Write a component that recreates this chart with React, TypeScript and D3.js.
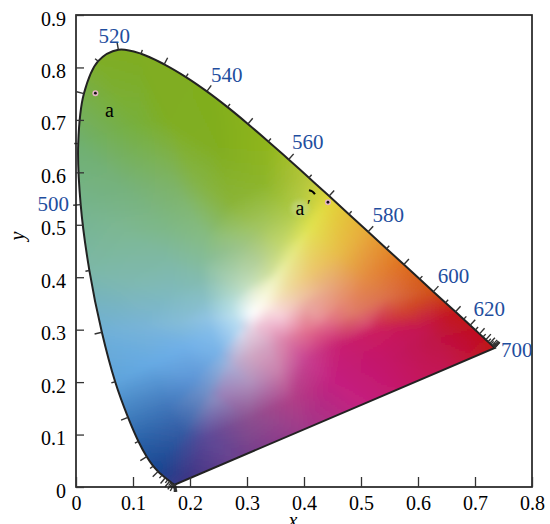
import { useEffect, useRef } from 'react';
import * as d3 from 'd3';

const width = 550;
const height = 524;
const margin = { top: 15, right: 18, bottom: 37, left: 76 };

const xTicks = [0, 0.1, 0.2, 0.3, 0.4, 0.5, 0.6, 0.7, 0.8];
const yTicks = [0, 0.1, 0.2, 0.3, 0.4, 0.5, 0.6, 0.7, 0.8, 0.9];

// spectral locus, one row per 5 nm starting at 380 nm
const locusStart = 380;
const locusX = [
  0.1741, 0.174, 0.1738, 0.1736, 0.1733, 0.173, 0.1726, 0.1721, 0.1714, 0.1703, 0.1689, 0.1669, 0.1644,
  0.1611, 0.1566, 0.151, 0.144, 0.1355, 0.1241, 0.1096, 0.0913, 0.0687, 0.0454, 0.0235, 0.0082, 0.0039,
  0.0139, 0.0389, 0.0743, 0.1142, 0.1547, 0.1929, 0.2296, 0.2658, 0.3016, 0.3373, 0.3731, 0.4087, 0.4441,
  0.4788, 0.5125, 0.5448, 0.5752, 0.6029, 0.627, 0.6482, 0.6658, 0.6801, 0.6915, 0.7006, 0.7079, 0.714,
  0.719, 0.723, 0.726, 0.7279, 0.73, 0.7311, 0.732, 0.7327, 0.7334, 0.734, 0.7344, 0.7346, 0.7347,
];
const locusY = [
  0.005, 0.005, 0.0049, 0.0049, 0.0048, 0.0048, 0.0048, 0.0048, 0.0051, 0.0058, 0.0069, 0.0086, 0.0109,
  0.0138, 0.0177, 0.0227, 0.0297, 0.0399, 0.0578, 0.0868, 0.1327, 0.2007, 0.295, 0.4127, 0.5384, 0.6548,
  0.7502, 0.812, 0.8338, 0.8262, 0.8059, 0.7816, 0.7543, 0.7243, 0.6923, 0.6589, 0.6245, 0.5896, 0.5547,
  0.5202, 0.4866, 0.4544, 0.4242, 0.3965, 0.3725, 0.3514, 0.334, 0.3197, 0.3083, 0.2993, 0.292, 0.2859,
  0.2809, 0.277, 0.274, 0.2721, 0.27, 0.2689, 0.268, 0.2673, 0.2666, 0.266, 0.2656, 0.2654, 0.2653,
];

const waveLabels = [500, 520, 540, 560, 580, 600, 620, 700];
const waveLabelDx = [-27.5, -4, 20, 19, 20, 20, 19, 22];
const waveLabelDy = [6, -7, -9, -10, -10, -9, -9.5, 9];

const pointNames = ['a', 'a'];
const pointX = [0.034, 0.442];
const pointY = [0.751, 0.543];

// colour samples of the diagram, taken along lines from the white point to the edge
const whitePoint: [number, number] = [0.31, 0.332];
const spokeStops = [0.12, 0.3, 0.5, 0.75, 1];
const spokeEndX = [
  0.445, 0.5125, 0.5752, 0.627, 0.6658, 0.7079, 0.7347, 0.62, 0.5, 0.4, 0.3, 0.2, 0.1741,
  0.144, 0.1096, 0.0687, 0.0454, 0.0235, 0.0082, 0.0039, 0.0389, 0.1142, 0.2296, 0.3373, 0.4087,
];
const spokeEndY = [
  0.552, 0.4866, 0.4242, 0.3725, 0.334, 0.292, 0.2653, 0.212, 0.156, 0.11, 0.063, 0.017, 0.005,
  0.0297, 0.0868, 0.2007, 0.295, 0.4127, 0.5384, 0.6548, 0.812, 0.8262, 0.7543, 0.6589, 0.5896,
];
const spokeColors = [
  ['#fafaea', '#eef2b8', '#e6ea88', '#e2e450', '#e2d83a'],
  ['#fbf4e0', '#f0dca0', '#ecc870', '#e8bc48', '#e8a838'],
  ['#fbe8e0', '#f0c8a8', '#e8a880', '#e48c40', '#e07020'],
  ['#f8dcdc', '#eaa8a0', '#e58a70', '#dc7048', '#d05018'],
  ['#f8d8dc', '#eaa0a0', '#e07a68', '#d04030', '#c41818'],
  ['#f6d0d8', '#e88c98', '#d85070', '#c41450', '#c01020'],
  ['#f6ccd8', '#e2708c', '#cc2060', '#c01248', '#c01515'],
  ['#f4c4d8', '#e27090', '#c82070', '#c41468', '#c41558'],
  ['#f0c0d4', '#dc80a8', '#c84090', '#c42080', '#c42280'],
  ['#ecc0d4', '#d4a0c0', '#ca80ac', '#b04088', '#a03a8a'],
  ['#e6d0e0', '#d0a8c4', '#b090bc', '#8c5090', '#74408c'],
  ['#dcd0e4', '#b8acd0', '#9a80b8', '#5c4a98', '#403585'],
  ['#d8d8ea', '#a8b0d8', '#8a8cc0', '#4a4c98', '#3a3a8a'],
  ['#cfe0f2', '#92b4e0', '#7090c8', '#345ca4', '#1a4590'],
  ['#b8daf2', '#7ab4e8', '#6098d8', '#3f74b8', '#2a62a8'],
  ['#b8def2', '#82bcea', '#70b0e8', '#66aae4', '#5fa4dc'],
  ['#bfe2ec', '#90c4e4', '#84bcd8', '#78b4d8', '#70b0d8'],
  ['#b8e0e4', '#88c0c8', '#7fbabc', '#7fb9b0', '#7cb8a8'],
  ['#b4dcd8', '#84bcb0', '#7fb9a4', '#7db894', '#76b48c'],
  ['#b0d8c8', '#84bc9c', '#7eb888', '#76b27c', '#70b070'],
  ['#b0d4b8', '#86bc84', '#7eb468', '#78b03c', '#7fae28'],
  ['#b8d8b8', '#90c078', '#84b448', '#80ae22', '#80ad20'],
  ['#c4e0c0', '#9cc488', '#8ab438', '#82ae20', '#80ae1f'],
  ['#e8f0d8', '#b4d098', '#a4c660', '#8eb62c', '#90b61c'],
  ['#f4f6dc', '#cfe09c', '#c4d870', '#b2cc48', '#b8c83c'],
];

const x = d3.scaleLinear().domain([0, 0.8]).range([margin.left, width - margin.right]);
const y = d3.scaleLinear().domain([0, 0.9]).range([height - margin.bottom, margin.top]);

const locus = locusX.map((d, i) => [x(d), y(locusY[i])] as [number, number]);
const locusPath = d3.line().curve(d3.curveCatmullRom.alpha(0.5))(locus) + 'Z';

// outward normal at each 5 nm mark, longer tick every 10 nm
const locusTicks = locus.map((p, i) => {
  const a = locus[Math.max(0, i - 1)];
  const b = locus[Math.min(locus.length - 1, i + 1)];
  const tx = b[0] - a[0];
  const ty = b[1] - a[1];
  const n = Math.hypot(tx, ty) || 1;
  let nx = ty / n;
  let ny = -tx / n;
  if (nx * (p[0] - x(0.33)) + ny * (p[1] - y(0.33)) < 0) {
    nx = -nx;
    ny = -ny;
  }
  const len = (locusStart + i * 5) % 10 === 0 ? 7.5 : 4;
  return { x1: p[0], y1: p[1], x2: p[0] + nx * len, y2: p[1] + ny * len };
});

const blue = '#1f4e9e';
const serif = '"Liberation Serif", serif';

const App = () => {
  const fieldRef = useRef<SVGGElement>(null);
  const xAxisRef = useRef<SVGGElement>(null);
  const yAxisRef = useRef<SVGGElement>(null);

  useEffect(() => {
    const wx = x(whitePoint[0]);
    const wy = y(whitePoint[1]);

    // mesh of the colour samples, with an extra ring outside the curve for the blur
    const pts: [number, number][] = [[wx, wy]];
    const cols = [d3.rgb('#ffffff')];
    spokeColors.forEach((stops, s) => {
      const ex = x(spokeEndX[s]);
      const ey = y(spokeEndY[s]);
      [...spokeStops, 1.12, 1.3].forEach((t, k) => {
        pts.push([wx + (ex - wx) * t, wy + (ey - wy) * t]);
        cols.push(d3.rgb(stops[Math.min(k, stops.length - 1)]));
      });
    });

    const { triangles } = d3.Delaunay.from(pts);
    const grown = locus.map(p => [wx + (p[0] - wx) * 1.05, wy + (p[1] - wy) * 1.05] as [number, number]);
    const cells: { x: number; y: number; fill: string }[] = [];
    const step = 2;
    for (let t = 0; t < triangles.length; t += 3) {
      const [i, j, k] = [triangles[t], triangles[t + 1], triangles[t + 2]];
      const [a, b, c] = [pts[i], pts[j], pts[k]];
      const det = (b[1] - c[1]) * (a[0] - c[0]) + (c[0] - b[0]) * (a[1] - c[1]);
      if (Math.abs(det) < 1e-6) continue;
      const x0 = Math.floor(Math.min(a[0], b[0], c[0]) / step) * step;
      const x1 = Math.max(a[0], b[0], c[0]);
      const y0 = Math.floor(Math.min(a[1], b[1], c[1]) / step) * step;
      const y1 = Math.max(a[1], b[1], c[1]);
      for (let py = y0; py <= y1; py += step) {
        for (let px = x0; px <= x1; px += step) {
          const u = ((b[1] - c[1]) * (px - c[0]) + (c[0] - b[0]) * (py - c[1])) / det;
          const v = ((c[1] - a[1]) * (px - c[0]) + (a[0] - c[0]) * (py - c[1])) / det;
          const w = 1 - u - v;
          if (u < 0 || v < 0 || w < 0) continue;
          if (!d3.polygonContains(grown, [px, py])) continue;
          const r = u * cols[i].r + v * cols[j].r + w * cols[k].r;
          const g = u * cols[i].g + v * cols[j].g + w * cols[k].g;
          const bl = u * cols[i].b + v * cols[j].b + w * cols[k].b;
          cells.push({ x: px, y: py, fill: `rgb(${r | 0},${g | 0},${bl | 0})` });
        }
      }
    }
    d3.select(fieldRef.current)
      .selectAll('rect')
      .data(cells)
      .join('rect')
      .attr('x', d => d.x - 1)
      .attr('y', d => d.y - 1)
      .attr('width', step + 0.5)
      .attr('height', step + 0.5)
      .attr('fill', d => d.fill);

    const xAxis = d3.axisBottom(x).tickValues(xTicks).tickSize(-10).tickPadding(9)
      .tickFormat(d => (d === 0 ? '0' : d3.format('.1f')(d as number)));
    const yAxis = d3.axisLeft(y).tickValues(yTicks).tickSize(-8).tickPadding(10)
      .tickFormat(d => (d === 0 ? '0' : d3.format('.1f')(d as number)));

    for (const [ref, axis] of [[xAxisRef, xAxis], [yAxisRef, yAxis]] as const) {
      const g = d3.select(ref.current);
      g.call(axis as any);
      g.select('.domain').remove();
      g.selectAll('line').attr('stroke', '#333').attr('stroke-width', 1.3);
      g.selectAll('text').attr('fill', '#000').style('font-family', serif).style('font-size', '20px');
    }
    d3.select(yAxisRef.current).selectAll('text').attr('dy', '0.5em');
  }, []);

  const [ax, ay] = [x(pointX[0]), y(pointY[0])];
  const [bx, by] = [x(pointX[1]), y(pointY[1])];

  return (
    <svg width={width} height={height} style={{ position: 'absolute', left: 0, top: 0 }}>
      <defs>
        <clipPath id="locus-clip"><path d={locusPath} /></clipPath>
        <filter id="soft" filterUnits="userSpaceOnUse" x="0" y="0" width={width} height={height}>
          <feGaussianBlur stdDeviation="3" />
        </filter>
        <filter id="patch" filterUnits="userSpaceOnUse" x="0" y="0" width={width} height={height}>
          <feGaussianBlur stdDeviation="2" />
        </filter>
      </defs>
      <rect width={width} height={height} fill="#fff" />
      <g clipPath="url(#locus-clip)">
        <g ref={fieldRef} filter="url(#soft)" shapeRendering="crispEdges" />
        <ellipse cx={bx - 28} cy={by + 6} rx={9} ry={8} fill="#c6da90" opacity={0.55} filter="url(#patch)" />
      </g>
      <path d={locusPath} fill="none" stroke="#222" strokeWidth={2} />
      <g stroke="#333" strokeWidth={1.4}>
        {locusTicks.map((t, i) => <line key={i} {...t} />)}
      </g>
      <rect
        x={margin.left} y={margin.top}
        width={width - margin.left - margin.right} height={height - margin.top - margin.bottom}
        fill="none" stroke="#222" strokeWidth={1.7}
      />
      <g ref={xAxisRef} transform={`translate(0,${height - margin.bottom})`} />
      <g ref={yAxisRef} transform={`translate(${margin.left},0)`} />

      <g fontFamily={serif} fontSize={21} fill={blue} textAnchor="middle">
        {waveLabels.map((w, i) => {
          const p = locus[(w - locusStart) / 5];
          return <text key={w} x={p[0] + waveLabelDx[i]} y={p[1] + waveLabelDy[i]}>{w}</text>;
        })}
      </g>

      {[[ax, ay], [bx, by]].map(([px, py], i) => (
        <g key={i}>
          <circle cx={px} cy={py} r={3} fill="#e6b4c6" />
          <circle cx={px} cy={py} r={1.4} fill="#111" />
        </g>
      ))}
      <g fontFamily={serif} fontSize={20} fill="#000" textAnchor="middle">
        <text x={ax + 14} y={ay + 24}>{pointNames[0]}</text>
        <text x={bx - 28} y={by + 13}>{pointNames[1]}</text>
        <text x={bx - 19} y={by + 9} fontSize={17}>′</text>
      </g>
      <path d={`M${bx - 19},${by - 12}q4,0.5 6,4`} fill="none" stroke="#000" strokeWidth={2} />

      <text x={293} y={527} fontFamily={serif} fontSize={20} fontStyle="italic" textAnchor="middle">x</text>
      <text
        transform="translate(24,236) rotate(-90)"
        fontFamily={serif} fontSize={20} fontStyle="italic" textAnchor="middle"
      >y</text>
    </svg>
  );
};

export default App;
